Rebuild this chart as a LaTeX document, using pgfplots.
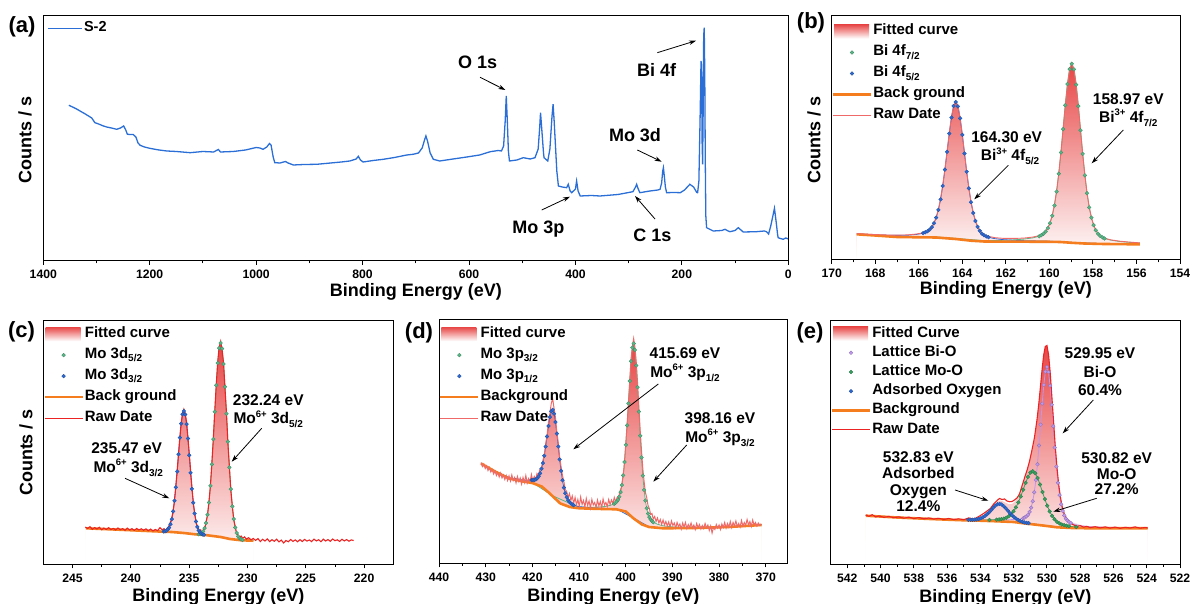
\documentclass[border=0pt]{standalone}
\usepackage{fontspec}
\setmainfont{Liberation Sans}
\usepackage{pgfplots}
\usepackage{pgfplotstable}
\pgfplotsset{compat=1.18}
\usetikzlibrary{arrows.meta}

\definecolor{survey}{RGB}{43,111,214}
\definecolor{fitred}{RGB}{232,70,70}
\definecolor{cgreen}{RGB}{88,183,135}
\definecolor{cblue}{RGB}{45,105,210}
\definecolor{corange}{RGB}{245,125,30}
\definecolor{rawred}{RGB}{235,35,35}
\definecolor{rawlight}{RGB}{240,105,105}
\definecolor{cpurple}{RGB}{190,150,235}
\definecolor{egreen}{RGB}{55,160,95}

\newcommand\sps[1]{\raisebox{0.42em}{\fontsize{9.5}{10}\selectfont #1}}
\newcommand\sbs[1]{\raisebox{-0.25em}{\fontsize{10}{10}\selectfont #1}}

% ---------------- (a) survey ----------------
\pgfplotstableread{
x y
1352 155.7
1345 154.0
1338 152.2
1331 150.0
1322 147.3
1315 145.0
1309 143.0
1303 138.3
1296 137.0
1288 135.2
1281 134.0
1272 133.0
1262 131.7
1255 133.0
1249 135.0
1245 131.0
1242 126.7
1236 126.5
1231 126.5
1226 124.0
1222 118.0
1218 115.7
1210 114.0
1200 112.7
1185 111.2
1168 110.0
1150 109.5
1124 108.3
1100 109.5
1080 109.0
1071 111.5
1067 109.0
1043 109.5
1020 111.0
1000 113.5
993 113.0
987 111.7
980 114.0
975 117.5
972 116.0
968 104.0
965 98.3
955 98.0
945 99.5
940 98.0
930 96.0
910 96.5
886 96.7
860 98.0
840 99.0
824 100.0
812 102.0
808 104.7
804 101.0
799 99.0
780 100.5
761 101.7
740 103.5
717 106.0
705 106.7
695 108.0
688 113.0
683 122.0
681 125.0
678 120.0
673 108.0
667 101.7
655 100.0
630 102.0
604 104.0
580 106.0
560 109.3
545 110.5
539 110.0
535 115.0
532 140.0
530 165.0
528 140.0
526 110.0
524 100.0
510 101.0
498 103.3
485 102.0
476 103.3
470 112.0
467 135.0
465.6 148.3
463 130.0
460 108.0
459 103.3
452 100.0
448 112.0
444 145.0
442 156.7
440 140.0
437 110.0
435 90.0
432 75.0
425 74.0
416.5 73.3
413.5 76.7
410 70.0
407 68.3
400 72.0
397.8 80.0
395 70.0
391 65.0
370 65.5
354 65.0
320 66.5
292 69.3
287 74.0
285 76.7
282 72.0
279 68.3
260 70.0
245 71.0
241 71.7
238 78.0
236 90.0
234.7 93.3
233 85.0
231 74.0
228.6 68.3
215 68.5
203 68.3
195 71.0
185 76.7
178 74.0
172 68.5
170.4 68.3
168 80.0
165.5 150.0
164 200.0
163 195.0
162 120.0
161 96.7
160 150.0
159 225.0
158 233.3
157 190.0
156 100.0
155 45.0
153.5 33.3
141 30.0
125 30.5
119 31.7
113 30.0
109.6 29.3
100 30.5
94 33.3
89 31.0
84.7 29.0
60 29.3
45 30.0
41 29.3
37 27.0
33 35.0
29 45.0
26 52.7
23 40.0
20 26.0
19 23.3
15 22.5
9.5 21.7
5 23.0
3 22.7
0 22.0
}\survey

% ---------------- (b) Bi 4f ----------------
\pgfplotstableread{
x y
168.85 25.7
168.0 24.5
167.0 23.0
166.0 22.7
165.2 22.5
164.3 21.0
163.6 19.3
163.0 18.5
162.0 18.3
161.0 18.3
160.0 18.2
159.5 18.0
158.97 17.2
158.4 16.5
157.5 16.0
156.5 15.8
155.84 15.7
}\bBG
\pgfplotstableread{
x y
168.85 26.2
168.0 25.2
167.3 24.7
166.9 24.6
166.5 24.8
166.1 25.6
165.8 26.8
165.7 27.7
165.6 28.8
165.5 30.4
165.4 32.9
165.3 36.7
165.2 42.4
165.1 50.1
165.0 60.6
164.9 74.1
164.8 90.3
164.7 108.2
164.6 126.4
164.5 142.5
164.4 154.0
164.3 158.0
164.2 153.6
164.1 141.7
164.0 125.1
163.9 106.6
163.8 88.3
163.7 71.7
163.6 57.8
163.5 47.0
163.4 39.0
163.3 33.1
163.2 29.2
163.1 26.4
163.0 24.7
162.9 23.6
162.8 22.7
162.5 21.3
162.1 20.3
161.7 19.8
161.3 19.4
160.0 18.8
158.97 17.6
157.5 16.3
155.84 15.9
}\bBlue
\pgfplotstableread{
x y
168.85 26.0
167.0 23.4
165.2 23.0
164.3 21.6
163.0 19.4
161.97 19.7
161.57 20.2
161.17 20.9
160.77 22.1
160.47 23.7
160.37 24.8
160.27 26.3
160.17 28.4
160.07 31.8
159.97 36.8
159.87 44.2
159.77 54.5
159.67 68.4
159.57 86.2
159.47 107.5
159.37 130.9
159.27 154.8
159.17 175.9
159.07 190.9
158.97 196.2
158.87 190.6
158.77 175.3
158.67 153.9
158.57 129.8
158.47 106.1
158.37 84.7
158.27 66.7
158.17 52.6
158.07 42.3
157.97 34.8
157.87 29.8
157.77 26.3
157.67 24.2
157.57 22.6
157.47 21.5
157.17 19.8
156.77 18.5
156.37 17.7
155.97 17.1
155.84 17.0
}\bGreen
\pgfplotstableread{
x y
168.85 26.4
168.0 25.4
167.3 24.9
166.9 24.9
166.5 25.1
166.1 26.0
165.8 27.2
165.7 28.1
165.6 29.2
165.5 30.8
165.4 33.3
165.3 37.1
165.2 42.8
165.1 50.5
165.0 61.0
164.9 74.5
164.8 90.7
164.7 108.6
164.6 126.8
164.5 142.9
164.4 154.4
164.3 158.5
164.2 154.1
164.1 142.2
164.0 125.6
163.9 107.1
163.8 88.8
163.7 72.2
163.6 58.4
163.5 47.6
163.4 39.6
163.3 33.7
163.2 29.9
163.1 27.1
163.0 25.5
162.9 24.4
162.8 23.6
162.5 22.3
162.1 21.6
161.7 21.6
161.57 21.6
161.17 21.9
160.77 22.9
160.47 24.3
160.37 25.4
160.27 26.9
160.17 28.9
160.07 32.3
159.97 37.3
159.87 44.7
159.77 55.0
159.67 68.8
159.57 86.6
159.47 107.9
159.37 131.3
159.27 155.2
159.17 176.3
159.07 191.3
158.97 196.5
158.87 190.9
158.77 175.6
158.67 154.2
158.57 130.1
158.47 106.4
158.37 85.0
158.27 67.0
158.17 52.9
158.07 42.6
157.97 35.1
157.87 30.1
157.77 26.6
157.67 24.5
157.57 22.9
157.47 21.8
157.17 20.1
156.77 18.8
156.37 18.0
155.97 17.3
155.84 17.2
}\bFit

% ---------------- (c) Mo 3d ----------------
\pgfplotstableread{
x y
243.84 36.2
241.0 34.8
238.0 33.2
236.5 32.5
235.45 31.5
234.5 30.2
233.5 29.3
232.3 27.5
231.5 25.5
230.5 24.2
229.5 23.8
}\cBG
\pgfplotstableread{
x y
243.84 36.3
241.0 34.9
238.0 33.3
237.175 33.0
237.06 33.3
236.945 33.8
236.83 35.0
236.715 36.9
236.60 40.2
236.485 45.4
236.37 53.1
236.255 63.7
236.14 77.2
236.025 93.0
235.91 110.2
235.795 126.8
235.68 140.9
235.565 150.3
235.45 153.5
235.335 150.0
235.22 140.4
235.105 126.0
234.99 109.2
234.875 91.7
234.76 75.6
234.645 61.8
234.53 51.0
234.415 43.0
234.30 37.6
234.185 34.2
234.07 32.1
233.955 30.8
233.84 30.1
233.725 29.7
233.5 29.3
232.3 27.5
231.5 25.5
230.5 24.2
229.5 23.8
}\cBlue
\pgfplotstableread{
x y
243.84 36.3
241.0 34.9
238.0 33.3
236.5 32.6
235.45 31.6
234.5 30.3
234.175 30.3
234.05 30.7
233.925 31.5
233.80 33.2
233.675 36.3
233.55 41.5
233.425 49.7
233.30 61.9
233.175 78.7
233.05 100.1
232.925 125.4
232.80 152.8
232.675 179.2
232.55 201.5
232.425 216.4
232.30 221.5
232.175 215.9
232.05 200.5
231.925 177.7
231.80 150.8
231.675 122.9
231.55 97.1
231.425 75.3
231.30 58.1
231.175 45.5
231.05 37.0
230.925 31.5
230.80 28.2
230.675 26.2
230.55 25.2
230.425 24.6
229.5 23.9
}\cGreen
\pgfplotstableread{
x y
243.84 36.3
241.0 34.9
238.0 33.3
237.175 33.0
237.06 33.3
236.945 33.8
236.83 35.0
236.715 36.9
236.60 40.2
236.485 45.4
236.37 53.1
236.255 63.7
236.14 77.2
236.025 93.0
235.91 110.2
235.795 126.8
235.68 140.9
235.565 150.3
235.45 153.5
235.335 150.0
235.22 140.4
235.105 126.0
234.99 109.2
234.875 91.7
234.76 75.6
234.645 61.8
234.53 51.0
234.415 43.0
234.30 37.8
234.185 34.6
234.07 32.9
233.925 32.4
233.80 33.6
233.675 36.5
233.55 41.5
233.425 49.7
233.30 61.9
233.175 78.7
233.05 100.1
232.925 125.4
232.80 152.8
232.675 179.2
232.55 201.5
232.425 216.4
232.30 221.5
232.175 215.9
232.05 200.5
231.925 177.7
231.80 150.8
231.675 122.9
231.55 97.1
231.425 75.3
231.30 58.1
231.175 45.5
231.05 37.0
230.925 31.5
230.80 28.2
230.675 26.2
230.55 25.2
230.425 24.6
229.5 23.8
}\cFit
\pgfplotstableread{
x y
243.9 37.5
243.7 36.0
243.5 37.8
243.3 35.2
243.1 36.9
242.9 35.5
242.7 37.2
242.5 34.8
242.3 36.4
242.1 35.0
241.9 36.8
241.7 34.9
241.5 36.1
241.3 34.6
241.1 36.5
240.9 34.8
240.7 35.9
240.5 34.2
240.3 36.3
240.1 34.5
239.9 35.8
239.7 34.1
239.5 36.0
239.3 34.6
239.1 35.7
238.9 34.3
238.7 35.6
238.5 33.8
238.3 35.4
238.1 33.6
237.9 35.0
237.7 33.9
237.5 36.8
237.3 34.5
237.15 35.8
237.0 33.6
236.9 36.2
236.77 37.5
236.65 41.0
236.53 44.5
236.41 50.8
236.29 60.5
236.17 74.8
236.05 90.6
235.93 107.5
235.81 125.0
235.69 140.5
235.57 150.8
235.45 155.2
235.33 150.5
235.21 141.6
235.09 125.0
234.97 108.6
234.85 90.0
234.73 73.0
234.61 58.6
234.49 48.5
234.37 40.6
234.25 36.9
234.13 33.0
234.01 34.6
233.9 31.2
233.78 34.5
233.66 35.8
233.55 42.6
233.43 48.8
233.30 62.8
233.18 77.9
233.05 101.5
232.93 124.8
232.80 154.0
232.68 178.5
232.55 202.6
232.43 217.0
232.30 223.0
232.18 215.0
232.05 201.4
231.93 176.8
231.80 151.6
231.68 122.0
231.55 98.0
231.43 74.6
231.30 59.0
231.18 44.8
231.05 38.0
230.93 30.6
230.80 29.4
230.68 27.0
230.55 28.5
230.4 26.2
230.25 27.6
230.1 25.4
229.9 26.8
229.7 24.6
229.5 26.0
229.3 24.1
229.1 25.9
228.9 23.0
228.7 25.2
228.5 23.5
228.3 25.6
228.1 22.9
227.9 24.8
227.7 23.2
227.5 25.3
227.3 22.6
227.1 24.4
226.9 21.5
226.7 24.0
226.5 22.8
226.3 25.0
226.1 23.1
225.9 24.6
225.7 22.7
225.5 24.9
225.3 23.0
225.1 25.1
224.9 23.4
224.7 24.5
224.5 22.9
224.3 25.4
224.1 23.6
223.9 24.8
223.7 22.8
223.5 25.3
223.3 23.5
223.1 24.9
222.9 23.2
222.7 25.5
222.5 23.8
222.3 24.7
222.1 23.1
221.9 25.2
221.7 23.6
221.5 24.9
221.3 23.3
221.1 24.6
220.9 24.0
}\cRaw

% ---------------- (d) Mo 3p ----------------
\pgfplotstableread{
x y
431.0 100.0
428.0 92.0
425.0 85.0
422.0 82.0
420.0 80.5
418.0 77.0
416.5 71.0
415.6 67.0
414.0 60.0
412.0 56.5
410.0 55.2
405.0 54.5
402.0 54.2
400.0 52.0
398.3 45.0
396.5 39.0
395.0 36.5
392.0 35.2
385.0 35.5
378.0 36.5
370.9 38.5
}\dBG
\pgfplotstableread{
x y
431.0 100.3
428.0 92.4
424.65 85.3
423.45 84.8
422.25 83.6
421.05 83.2
420.15 83.3
419.85 83.5
419.55 83.6
419.25 84.1
418.95 85.2
418.65 87.1
418.35 90.1
418.05 94.7
417.75 100.3
417.45 107.8
417.15 116.9
416.85 127.0
416.55 137.5
416.25 146.4
415.95 152.3
415.65 153.7
415.35 149.8
415.05 141.4
414.75 129.8
414.45 116.9
414.15 104.1
413.85 92.6
413.55 83.2
413.25 75.9
412.95 70.3
412.65 66.3
412.35 63.4
412.05 61.4
411.75 60.1
411.45 59.1
411.15 58.3
410.25 57.1
409.05 56.4
407.85 55.8
406.65 55.5
402.0 54.6
398.3 45.3
395.0 36.7
392.0 35.4
385.0 35.6
378.0 36.6
370.9 38.6
}\dBlue
\pgfplotstableread{
x y
431.0 100.2
425.0 85.3
420.0 80.9
415.65 67.7
410.0 56.1
406.70 56.2
405.58 56.5
404.46 57.0
403.34 58.1
402.50 59.6
402.22 60.7
401.94 62.0
401.66 63.8
401.38 66.8
401.10 71.4
400.82 78.3
400.54 88.1
400.26 101.4
399.98 118.6
399.70 138.1
399.42 160.1
399.14 182.5
398.86 202.2
398.58 215.8
398.30 220.0
398.02 213.6
397.74 198.0
397.46 176.3
397.18 151.8
396.90 127.8
396.62 106.1
396.34 87.8
396.06 73.5
395.78 62.9
395.50 55.2
395.22 49.9
394.94 46.4
394.66 44.1
394.38 42.5
394.10 41.3
393.26 39.4
392.14 37.8
391.02 37.1
389.90 36.6
385.0 36.3
378.0 37.0
370.9 38.9
}\dGreen
\pgfplotstableread{
x y
431.0 100.5
428.0 92.6
424.65 85.5
423.45 85.0
422.25 83.8
421.05 83.5
420.15 83.6
419.85 83.8
419.55 83.9
419.25 84.4
418.95 85.5
418.65 87.4
418.35 90.4
418.05 95.0
417.75 100.6
417.45 108.1
417.15 117.2
416.85 127.3
416.55 137.8
416.25 146.7
415.95 152.6
415.65 154.0
415.35 150.1
415.05 141.8
414.75 130.2
414.45 117.3
414.15 104.5
413.85 93.0
413.55 83.7
413.25 76.4
412.95 70.8
412.65 66.9
412.35 64.0
412.05 62.0
411.75 60.8
411.45 59.8
411.15 59.1
410.25 58.0
409.05 57.3
407.85 57.0
406.70 56.9
405.58 57.1
404.46 57.5
403.34 58.6
402.50 60.0
402.22 61.1
401.94 62.4
401.66 64.2
401.38 67.2
401.10 71.8
400.82 78.7
400.54 88.4
400.26 101.7
399.98 118.9
399.70 138.4
399.42 160.4
399.14 182.8
398.86 202.5
398.58 216.1
398.30 220.3
398.02 213.9
397.74 198.3
397.46 176.6
397.18 152.1
396.90 128.1
396.62 106.4
396.34 88.0
396.06 73.7
395.78 63.1
395.50 55.4
395.22 50.1
394.94 46.6
394.66 44.3
394.38 42.7
394.10 41.5
393.26 39.6
392.14 38.0
391.02 37.3
389.90 36.8
385.0 36.4
378.0 37.1
370.9 39.0
}\dFit
\pgfplotstableread{
x y
431.0 101
430.7 97
430.4 99.5
430.1 95
429.8 97.5
429.5 93
429.2 96
428.9 91.5
428.6 94
428.3 89.5
428.0 92.5
427.7 88
427.4 91
427.1 86.5
426.8 90.5
426.5 85.5
426.2 88.5
425.9 84
425.6 88
425.3 83
425.0 87.5
424.7 82.5
424.4 88.5
424.1 83
423.8 86
423.5 80.5
423.2 87
422.9 82
422.6 85.5
422.3 79.5
422.0 86
421.7 81
421.4 88
421.1 80.5
420.8 85
420.5 82
420.2 89
419.9 82.5
419.6 87
419.3 84
419.0 90
418.7 88
418.4 94
418.05 96
417.75 103
417.45 108
417.15 120
416.85 128
416.55 141
416.25 150
415.95 160
415.65 165
415.35 155
415.05 146
414.75 131
414.45 121
414.15 106
413.85 97
413.55 88
413.25 82
412.95 74
412.65 72
412.35 66
412.05 70
411.75 63
411.45 67.5
411.15 60
410.85 66
410.55 58.5
410.25 64
409.95 57
409.65 66.5
409.35 59
409.05 63
408.75 56.5
408.45 65
408.15 58
407.85 62.5
407.55 55.5
407.25 64
406.95 58.5
406.65 61
406.35 56
406.05 63.5
405.75 57.5
405.45 62
405.15 55.8
404.85 64.5
404.55 58.5
404.25 61
403.95 57
403.65 64
403.35 59
403.05 63.5
402.75 60
402.45 66
402.15 61.5
401.85 66
401.55 65.5
401.25 72
400.95 76
400.65 85
400.35 96
400.05 116
399.75 136
399.45 158
399.15 182
398.85 205
398.55 218
398.3 225
398.02 216
397.74 201
397.46 180
397.18 156
396.9 133
396.62 113
396.34 95
396.06 82
395.78 71
395.5 66
395.22 58
394.94 55
394.66 49
394.38 50
394.1 44.5
393.8 47
393.5 42
393.2 45.5
392.9 40.5
392.6 44
392.3 39
392.0 43.5
391.7 38.5
391.4 42
391.1 37.5
390.8 41.5
390.5 36.5
390.2 42.5
389.9 38
389.6 40.5
389.3 35.5
389.0 41
388.7 37
388.4 39.5
388.1 34.5
387.8 40.5
387.5 36.5
387.2 41
386.9 35
386.6 39
386.3 36
386.0 40.5
385.7 35.5
385.4 38.5
385.1 34
384.8 40
384.5 36
384.2 39
383.9 34.5
383.6 38
383.3 35
383.0 40
382.7 35.5
382.4 38.5
382.1 33
381.8 37.5
381.5 30.5
381.2 36
380.9 34
380.6 39
380.3 35.5
380.0 38.5
379.7 34
379.4 39.5
379.1 36
378.8 41
378.5 35.5
378.2 40
377.9 36.5
377.6 42
377.3 36
377.0 41
376.7 37.5
376.4 42.5
376.1 37
375.8 40
375.5 36.5
375.2 43
374.9 37.5
374.6 41
374.3 38
374.0 44
373.7 38.5
373.4 42
373.1 37
372.8 43.5
372.5 38.5
372.2 41
371.9 37.5
371.6 40.5
371.3 38
371.0 39.5
}\dRaw

% ---------------- (e) O 1s ----------------
\pgfplotstableread{
x y
540.88 48.8
539.0 47.0
537.0 45.5
535.0 44.2
534.0 43.8
533.0 43.2
532.0 42.5
531.4 41.2
530.5 39.5
530.0 38.5
529.4 37.2
528.5 36.5
527.4 36.2
523.95 36.2
}\eBG
\pgfplotstableread{
x y
540.88 49.1
538.0 46.7
535.0 44.8
532.85 44.4
532.47 44.6
532.09 44.9
531.71 45.3
531.425 46.2
531.33 47.0
531.235 48.1
531.14 49.8
531.045 52.6
530.95 56.9
530.855 63.3
530.76 72.3
530.665 84.5
530.57 100.2
530.475 119.0
530.38 139.8
530.285 160.9
530.19 179.6
530.095 192.8
530.0 197.5
529.905 192.4
529.81 178.8
529.715 159.7
529.62 138.2
529.525 117.0
529.43 97.9
529.335 81.8
529.24 69.4
529.145 60.1
529.05 53.4
528.955 49.0
528.86 45.9
528.765 43.9
528.67 42.6
528.575 41.5
528.29 39.9
527.91 38.6
527.53 37.9
527.15 37.5
525.0 36.8
523.95 36.7
}\ePurple
\pgfplotstableread{
x y
540.88 49.0
537.0 45.7
535.2 44.7
534.62 44.6
534.04 44.6
533.46 44.5
533.025 44.8
532.88 45.1
532.735 45.4
532.59 45.9
532.445 46.8
532.30 48.2
532.155 50.3
532.01 53.3
531.865 57.1
531.72 62.1
531.575 68.1
531.43 74.8
531.285 81.6
531.14 87.6
530.995 91.9
530.85 93.2
530.705 91.3
530.56 86.5
530.415 79.9
530.27 72.5
530.125 65.3
529.98 58.7
529.835 53.1
529.69 48.6
529.545 45.2
529.40 42.7
529.255 41.1
529.11 40.0
528.965 39.3
528.82 38.8
528.675 38.3
528.24 37.5
527.66 37.0
527.08 36.8
526.5 36.6
523.95 36.4
}\eGreen
\pgfplotstableread{
x y
540.88 48.9
537.0 45.6
535.6 44.9
535.1 44.7
534.725 44.6
534.60 44.7
534.475 44.7
534.35 44.9
534.225 45.1
534.10 45.6
533.975 46.2
533.85 47.2
533.725 48.4
533.60 50.2
533.475 52.2
533.35 54.5
533.225 56.7
533.10 58.8
532.975 60.2
532.85 60.6
532.725 60.0
532.60 58.4
532.475 56.2
532.35 53.8
532.225 51.4
532.10 49.3
531.975 47.3
531.85 45.8
531.725 44.4
531.60 43.5
531.475 42.7
531.35 42.1
531.225 41.6
531.10 41.3
530.975 41.0
530.6 40.1
530.1 39.0
529.0 37.1
523.95 36.3
}\eBlue
\pgfplotstableread{
x y
540.88 49.0
539.0 47.3
537.0 46.1
535.5 45.4
534.5 45.9
534.0 47.6
533.6 52.0
533.3 57.6
533.0 62.8
532.85 63.9
532.7 63.6
532.5 61.9
532.3 60.4
532.1 60.5
531.9 63.2
531.7 68.8
531.5 77.4
531.3 88.0
531.1 99.3
530.9 113.3
530.75 126.0
530.6 143.6
530.5 158.6
530.4 175.5
530.3 192.9
530.2 208.5
530.1 217.9
530.0 218.7
529.9 209.3
529.8 191.4
529.7 167.6
529.6 142.8
529.5 119.0
529.4 98.2
529.3 81.8
529.2 69.1
529.1 59.8
529.0 53.7
528.8 46.6
528.6 43.4
528.4 41.7
528.0 39.8
527.5 38.5
526.0 37.2
524.0 36.7
523.95 36.7
}\eFit
\pgfplotstableread{
x y
540.9 49.5
540.7 48.2
540.5 49.8
540.3 47.6
540.1 48.5
539.8 47.2
539.5 48.0
539.2 46.8
538.9 47.6
538.6 46.3
538.3 47.3
538.0 46.0
537.7 46.9
537.4 45.7
537.1 46.5
536.8 45.4
536.5 46.2
536.2 45.0
535.9 46.0
535.6 44.9
535.3 45.7
535.0 44.8
534.7 46.6
534.4 45.3
534.1 48.0
533.85 50.5
533.6 53.5
533.4 56.0
533.2 60.5
533.0 64.0
532.85 66.0
532.7 65.0
532.55 65.5
532.4 63.5
532.25 62.8
532.1 63.0
531.95 64.5
531.8 66.5
531.65 70.5
531.5 78.5
531.35 86.5
531.2 94.0
531.05 103.0
530.9 114.5
530.75 127.0
530.6 144.5
530.5 159.0
530.4 176.0
530.3 193.5
530.2 209.0
530.1 218.0
530.0 219.0
529.9 209.5
529.8 191.0
529.7 167.0
529.6 142.5
529.5 118.5
529.4 97.5
529.3 81.0
529.2 68.5
529.1 59.0
529.0 52.5
528.85 46.8
528.7 43.5
528.55 41.0
528.4 39.6
528.2 38.2
528.0 38.8
527.8 37.4
527.6 38.1
527.4 36.9
527.1 37.8
526.8 36.6
526.5 37.6
526.2 36.4
525.9 37.4
525.6 36.2
525.3 37.2
525.0 36.5
524.7 37.6
524.4 36.3
524.1 37.0
523.95 36.6
}\eRaw

\pgfplotsset{
  xpsbase/.style={
    scale only axis, axis on top, anchor=south west,
    x dir=reverse, ymin=0, ytick=\empty,
    tick pos=left, tick align=outside,
    major tick length=4pt, minor tick length=2.5pt,
    minor x tick num=1,
    axis line style={line width=1pt},
    tick style={line width=0.9pt, black},
    tick label style={font=\bfseries\fontsize{12.2}{13}\selectfont},
    xticklabel style={yshift=-1.5pt},
    /pgf/number format/assume math mode=true,
    /pgf/number format/1000 sep={},
    xlabel={Binding Energy (eV)},
    xlabel style={font=\bfseries\fontsize{18}{20}\selectfont, at={(axis description cs:0.5,0)}, anchor=north, inner sep=0pt},
    ylabel style={font=\bfseries\fontsize{18}{20}\selectfont, anchor=center, inner sep=0pt},
    legend cell align=left,
    legend style={draw=none, fill=none, anchor=north west, at={(axis description cs:0,0.983)}, inner sep=0pt, outer sep=0pt,
       font=\bfseries\fontsize{15}{17}\selectfont, row sep=3pt,
       nodes={inner sep=1pt, text height=11pt, text depth=5pt}},
    legend image code/.code={\pgfpathrectangle{\pgfpoint{0pt}{-3pt}}{\pgfpoint{38pt}{6pt}}\pgfusepath{discard}%
       \draw[mark repeat=2,mark phase=2,##1] plot coordinates {(0pt,0pt) (19pt,0pt) (38pt,0pt)};},
  },
  shadelegend/.style={legend image code/.code={\pgfpathrectangle{\pgfpoint{0pt}{-3pt}}{\pgfpoint{38pt}{6pt}}\pgfusepath{discard}%
       \path[draw=none, top color=fitred, bottom color=white] (1pt,-7pt) rectangle (36pt,7pt);}},
  fitstyle/.style={draw=none, top color=fitred, bottom color=white, shadelegend},
  cover/.style={draw=none, fill=white, forget plot},
  bgstyle/.style={corange, line width=2.6pt},
  dots/.style={only marks, mark=*, mark size=1.9pt, mark options={fill=#1, draw=#1!75!black, line width=0.3pt}},
}

\tikzset{
 annA/.style={font=\bfseries\fontsize{18}{20}\selectfont, inner sep=0pt, anchor=base},
 ann/.style={font=\bfseries\fontsize{15.5}{17}\selectfont, inner sep=0pt, anchor=base},
 plab/.style={font=\bfseries\fontsize{22}{24}\selectfont, inner sep=0pt, anchor=center},
 arr/.style={-{Stealth[length=7pt,width=4.5pt]}, line width=0.8pt, black}
}

\begin{document}
\begin{tikzpicture}
\useasboundingbox (0pt,0pt) rectangle (1196pt,604pt);

% ===== (a) =====
\begin{axis}[xpsbase, at={(43.3pt,343pt)}, width=745pt, height=245pt,
  xmin=0, xmax=1400, ymax=245, xtick={0,200,...,1400},
  ylabel={Counts / s}, ylabel style={at={(axis description cs:-0.0246,0.494)}},
  xlabel style={yshift=-22pt},
  legend style={at={(axis description cs:0.006,0.985)}, font=\bfseries\fontsize{14.5}{16}\selectfont},
  legend image code/.code={\pgfpathrectangle{\pgfpoint{0pt}{-3pt}}{\pgfpoint{34pt}{6pt}}\pgfusepath{discard}\draw[#1] (0pt,0pt) -- (34pt,0pt);}]
\addplot[survey, line width=1.3pt] table {\survey};
\addlegendentry{S-2}
\end{axis}

% ===== (b) =====
\begin{axis}[xpsbase, at={(831.7pt,344pt)}, width=348.3pt, height=244.3pt,
  xmin=154, xmax=170, ymax=244.3, xtick={154,156,...,170},
  ylabel={Counts / s}, ylabel style={at={(axis description cs:-0.0508,0.493)}},
  xlabel style={yshift=-21pt},
  legend style={at={(axis description cs:0,0.972)}}]
\addplot[fitstyle] table {\bFit} \closedcycle;
\addlegendentry{Fitted curve}
\addplot[cover] table {\bBG} \closedcycle;
\addplot[cgreen, line width=0.8pt, forget plot] table {\bGreen};
\addplot[dots=cgreen, restrict x to domain=157.4:160.5] table {\bGreen};
\addlegendentry{Bi 4f\sbs{7/2}}
\addplot[cblue, line width=0.8pt, forget plot] table {\bBlue};
\addplot[dots=cblue, restrict x to domain=162.75:165.85] table {\bBlue};
\addlegendentry{Bi 4f\sbs{5/2}}
\addplot[bgstyle] table {\bBG};
\addlegendentry{Back ground}
\addplot[rawlight, line width=0.9pt] table {\bFit};
\addlegendentry{Raw Date}
\end{axis}

% ===== (c) =====
\begin{axis}[xpsbase, at={(43.3pt,39.5pt)}, width=350pt, height=243.5pt,
  xmin=217.5, xmax=247.5, ymax=243.5, xtick={220,225,...,245},
  ylabel={Counts / s}, ylabel style={at={(axis description cs:-0.0494,0.46)}},
  xlabel style={yshift=-24pt}]
\addplot[fitstyle] table {\cFit} \closedcycle;
\addlegendentry{Fitted curve}
\addplot[cover] table {\cBG} \closedcycle;
\addplot[cgreen, line width=0.8pt, forget plot] table {\cGreen};
\addplot[dots=cgreen, restrict x to domain=230.4:234.2] table {\cGreen};
\addlegendentry{Mo 3d\sbs{5/2}}
\addplot[cblue, line width=0.8pt, forget plot] table {\cBlue};
\addplot[dots=cblue, restrict x to domain=233.7:237.2] table {\cBlue};
\addlegendentry{Mo 3d\sbs{3/2}}
\addplot[bgstyle] table {\cBG};
\addlegendentry{Back ground}
\addplot[rawred, line width=1.1pt] table {\cRaw};
\addlegendentry{Raw Date}
\end{axis}

% ===== (d) =====
\begin{axis}[xpsbase, at={(439pt,40.5pt)}, width=348.7pt, height=243.5pt,
  xmin=365.3, xmax=440, ymax=243.5, xtick={370,380,...,440},
  xlabel style={yshift=-24.5pt},
  legend style={at={(axis description cs:0,0.979)}}]
\addplot[fitstyle] table {\dFit} \closedcycle;
\addlegendentry{Fitted curve}
\addplot[cover] table {\dBG} \closedcycle;
\addplot[cgreen, line width=0.8pt, forget plot] table {\dGreen};
\addplot[dots=cgreen, restrict x to domain=394.0:402.6] table {\dGreen};
\addlegendentry{Mo 3p\sbs{3/2}}
\addplot[cblue, line width=0.8pt, forget plot] table {\dBlue};
\addplot[dots=cblue, restrict x to domain=411.1:420.2] table {\dBlue};
\addlegendentry{Mo 3p\sbs{1/2}}
\addplot[bgstyle] table {\dBG};
\addlegendentry{Background}
\addplot[rawlight, line width=1.0pt] table {\dRaw};
\addlegendentry{Raw Date}
\end{axis}

% ===== (e) =====
\begin{axis}[xpsbase, at={(830.7pt,39.5pt)}, width=349.3pt, height=243.5pt,
  xmin=522, xmax=543, ymax=243.5, xtick={522,524,...,542},
  xlabel style={yshift=-24.5pt},
  legend style={row sep=2.2pt, nodes={inner sep=1pt, text height=11pt, text depth=4pt}}]
\addplot[fitstyle] table {\eFit} \closedcycle;
\addlegendentry{Fitted Curve}
\addplot[cover] table {\eBG} \closedcycle;
\addplot[cpurple, line width=0.8pt, forget plot] table {\ePurple};
\addplot[dots=cpurple, restrict x to domain=528.5:531.5] table {\ePurple};
\addlegendentry{Lattice Bi-O}
\addplot[egreen, line width=0.8pt, forget plot] table {\eGreen};
\addplot[dots=egreen, restrict x to domain=528.2:533.5] table {\eGreen};
\addlegendentry{Lattice Mo-O}
\addplot[cblue, line width=0.8pt, forget plot] table {\eBlue};
\addplot[dots=cblue, restrict x to domain=531.0:534.8] table {\eBlue};
\addlegendentry{Adsorbed Oxygen}
\addplot[bgstyle] table {\eBG};
\addlegendentry{Background}
\addplot[rawred, line width=1.1pt] table {\eRaw};
\addlegendentry{Raw Date}
\end{axis}

% ===== annotations =====
\node[annA] at (477.7pt,535.2pt) {O 1s};
\draw[arr] (480pt,526.7pt) -- (505.3pt,514pt);
\node[annA] at (656.7pt,527.5pt) {Bi 4f};
\draw[arr] (657.3pt,551.3pt) -- (696pt,563.3pt);
\node[annA] at (635pt,462.5pt) {Mo 3d};
\draw[arr] (637.3pt,454pt) -- (661.7pt,442.3pt);
\node[annA] at (538.3pt,370.8pt) {Mo 3p};
\draw[arr] (541.7pt,394pt) -- (570pt,407.3pt);
\node[annA] at (652.3pt,362.5pt) {C 1s};
\draw[arr] (655pt,385pt) -- (635pt,408pt);

\node[ann] at (1006.7pt,461.7pt) {164.30 eV};
\node[ann] at (1010pt,443.4pt) {Bi\sps{3+} 4f\sbs{5/2}};
\draw[arr] (1008.3pt,438.7pt) -- (974.3pt,404.7pt);
\node[ann] at (1128.3pt,499.4pt) {158.97 eV};
\node[ann] at (1128.3pt,481.7pt) {Bi\sps{3+} 4f\sbs{7/2}};
\draw[arr] (1123.3pt,474pt) -- (1091.7pt,440.7pt);

\node[ann] at (268.3pt,198.4pt) {232.24 eV};
\node[ann] at (268.3pt,180.1pt) {Mo\sps{6+} 3d\sbs{5/2}};
\draw[arr] (261.7pt,175.7pt) -- (231.7pt,142.3pt);
\node[ann] at (126.7pt,150.1pt) {235.47 eV};
\node[ann] at (128.3pt,131.7pt) {Mo\sps{6+} 3d\sbs{3/2}};
\draw[arr] (125pt,125.7pt) -- (169.3pt,105.7pt);

\node[ann] at (685pt,245.1pt) {415.69 eV};
\node[ann] at (685pt,226.7pt) {Mo\sps{6+} 3p\sbs{1/2}};
\draw[arr] (658.3pt,220pt) -- (573.3pt,154.7pt);
\node[ann] at (720pt,180.1pt) {398.16 eV};
\node[ann] at (720pt,161.7pt) {Mo\sps{6+} 3p\sbs{3/2}};
\draw[arr] (686.7pt,159pt) -- (653.3pt,122.3pt);

\node[ann] at (1100pt,245.1pt) {529.95 eV};
\node[ann] at (1100pt,226.7pt) {Bi-O};
\node[ann] at (1100pt,208.4pt) {60.4\%};
\draw[arr] (1093.3pt,204pt) -- (1062.7pt,170.7pt);
\node[ann] at (1116.7pt,140.6pt) {530.82 eV};
\node[ann] at (1116.7pt,124.9pt) {Mo-O};
\node[ann] at (1116.7pt,109.2pt) {27.2\%};
\draw[arr] (1096.7pt,105.7pt) -- (1053.3pt,92.3pt);
\node[ann] at (918.3pt,141.4pt) {532.83 eV};
\node[ann] at (918.3pt,125.1pt) {Adsorbed};
\node[ann] at (918.3pt,108.8pt) {Oxygen};
\node[ann] at (918.3pt,92.5pt) {12.4\%};
\draw[arr] (955pt,114pt) -- (988.3pt,103.3pt);

\node[plab] at (22pt,577pt) {(a)};
\node[plab] at (811pt,580.7pt) {(b)};
\node[plab] at (21.5pt,272.5pt) {(c)};
\node[plab] at (419pt,271pt) {(d)};
\node[plab] at (810pt,271pt) {(e)};
\end{tikzpicture}
\end{document}
